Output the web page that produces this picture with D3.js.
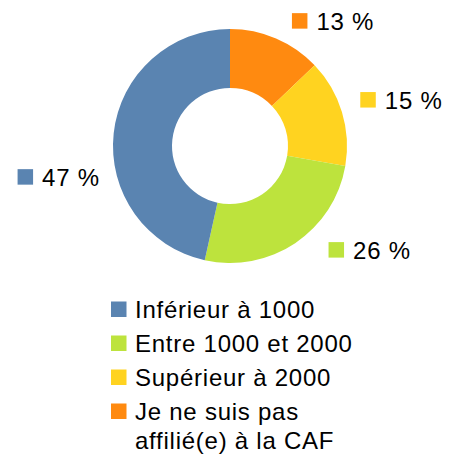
<!DOCTYPE html>
<html>
<head>
<meta charset="utf-8">
<script src="https://cdn.jsdelivr.net/npm/d3@7"></script>
<style>
  html, body { margin: 0; padding: 0; background: #fff; }
  text { font-family: "Liberation Sans", Arial, sans-serif; fill: #000; letter-spacing: 0.75px; }
</style>
</head>
<body>
<div id="chart"></div>
<script>
// legend order
const categories = ["Inférieur à 1000", "Entre 1000 et 2000", "Supérieur à 2000", "Je ne suis pas|affilié(e) à la CAF"]
const values = [47, 26, 15, 13]
const percentLabels = ["47 %", "26 %", "15 %", "13 %"]
const colors = ["#5a84b1", "#bde33d", "#ffd320", "#ff8a10"]

const dimensions = {
    width: 457,
    height: 455,
    cx: 230,
    cy: 146,
    outer: 117,
    inner: 58
}

// small hand nudges for the outside labels (layout only)
const labelNudge = [[1, 54], [25, -15], [4, 1], [10, 5]]

const svg = d3.select("#chart")
    .append("svg")
        .attr("width", dimensions.width)
        .attr("height", dimensions.height)

// pie goes clockwise from 12 o'clock, last category first
const pieData = d3.range(categories.length).reverse().map(i => ({ i: i, v: values[i] }))

const pie = d3.pie()
    .sort(null)
    .value(d => d.v)

const arcs = pie(pieData)

const arcGen = d3.arc()
    .innerRadius(dimensions.inner)
    .outerRadius(dimensions.outer)

const ring = svg.append("g")
    .attr("transform", `translate(${dimensions.cx},${dimensions.cy})`)

ring.selectAll("path")
    .data(arcs)
    .join("path")
        .attr("d", arcGen)
        .attr("fill", d => colors[d.data.i])

// data labels: square + text placed outside the ring at the slice's mid angle
const labelR = 132
const fontSize = 24
const sq = 15.5
const textX = 24.5

arcs.forEach(a => {
    const mid = (a.startAngle + a.endAngle) / 2
    const px = dimensions.cx + labelR * Math.sin(mid)
    const py = dimensions.cy - labelR * Math.cos(mid)
    const i = a.data.i

    const g = svg.append("g")
    const t = g.append("text")
        .attr("x", textX)
        .attr("y", 0)
        .attr("font-size", fontSize)
        .text(percentLabels[i])
    const boxW = textX + t.node().getComputedTextLength()

    g.insert("rect", "text")
        .attr("x", 0)
        .attr("y", -sq - 1)
        .attr("width", sq)
        .attr("height", sq)
        .attr("fill", colors[i])

    const left = Math.sin(mid) >= 0 ? px : px - boxW
    const base = Math.cos(mid) >= 0 ? py : py + 18
    g.attr("transform", `translate(${left + labelNudge[i][0]},${base + labelNudge[i][1]})`)
})

// legend
const legend = svg.append("g")
    .attr("transform", "translate(111,317.5)")

let y = 0
categories.forEach((c, i) => {
    const lines = c.split("|")
    legend.append("rect")
        .attr("x", 0)
        .attr("y", y - sq - 0.5)
        .attr("width", sq)
        .attr("height", sq)
        .attr("fill", colors[i])
    lines.forEach((ln, j) => {
        legend.append("text")
            .attr("x", 24)
            .attr("y", y + j * 29)
            .attr("font-size", fontSize)
            .text(ln)
    })
    y += 34 + (lines.length - 1) * 29
})
</script>
</body>
</html>
